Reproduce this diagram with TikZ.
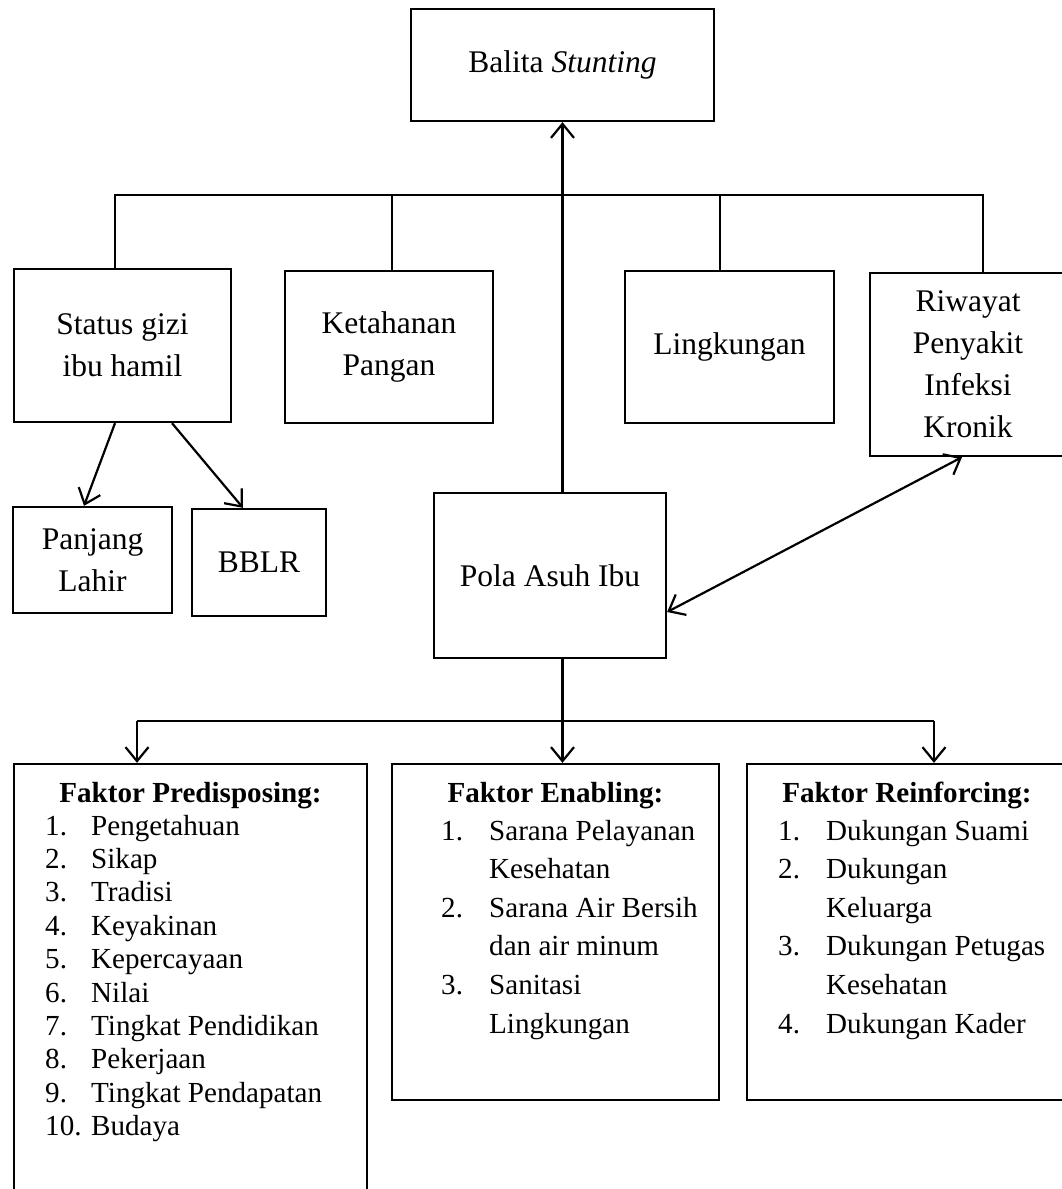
\documentclass[tikz,border=0pt]{standalone}
\usepackage{fontspec}
\setmainfont{Liberation Serif}
\usetikzlibrary{arrows.meta}
\newcommand\mytopfont{\fontsize{31.5}{42}\selectfont}
\newcommand\mybotfont{\fontsize{29.1}{33.4}\selectfont}
\begin{document}
\begin{tikzpicture}[x=1pt,y=-1pt,
  box/.style={draw, line width=2.3pt, inner sep=0pt, align=center, font=\mytopfont},
  bbox/.style={draw, line width=2.3pt, inner sep=0pt},
  ln/.style={line width=2.2pt},
  arr/.style={line width=2.2pt, -{Straight Barb[length=14pt,width=23pt]}},
  arrtwo/.style={line width=2.2pt, {Straight Barb[length=14pt,width=23pt]}-{Straight Barb[length=14pt,width=23pt]}},
  item/.style={anchor=base west, inner sep=0pt, font=\mybotfont},
  head/.style={anchor=base, inner sep=0pt, font=\mybotfont\bfseries}]
\useasboundingbox (0,0) rectangle (1062,1189);
\fill[white] (0,0) rectangle (1062,1189);

% top boxes
\node[box, minimum width=303pt, minimum height=112pt] (bal) at (562.5,65) {Balita \textit{Stunting}};
\node[box, minimum width=217pt, minimum height=153pt] (status) at (122.5,345.5) {Status gizi\\ibu hamil};
\node[box, minimum width=208pt, minimum height=152pt] (ket) at (389,347) {Ketahanan\\Pangan};
\node[box, minimum width=209pt, minimum height=152pt] (ling) at (729.5,347) {Lingkungan};
\node[box, minimum width=196pt, minimum height=183pt] (riw) at (968,364.5) {Riwayat\\Penyakit\\Infeksi\\Kronik};
\node[box, minimum width=159pt, minimum height=106pt] (panj) at (92.5,560) {Panjang\\Lahir};
\node[box, minimum width=134pt, minimum height=107pt] (bblr) at (259,562.5) {BBLR};
\node[box, minimum width=232pt, minimum height=165pt] (pola) at (550,575.5) {Pola Asuh Ibu};

% bottom boxes
\node[bbox, minimum width=353pt, minimum height=436pt] (pred) at (190.5,982) {};
\node[bbox, minimum width=327pt, minimum height=336pt] (enab) at (555.5,932) {};
\node[bbox, minimum width=319pt, minimum height=336pt] (rein) at (906.5,932) {};

% top tree
\coordinate (tl) at (115,195);
\coordinate (tk) at (392,195);
\coordinate (tg) at (720,195);
\coordinate (tr) at (983,195);
\draw[ln] (status.north -| tl) -- (tl) -- (tr) -- (riw.north -| tr);
\draw[ln] (tk) -- (ket.north -| tk);
\draw[ln] (tg) -- (ling.north -| tg);

% arrows
\draw[arr] (pola.north -| bal.south) -- (bal.south);
\draw[arr] ([xshift=-7.5pt]status.south) -- ([xshift=-8.5pt]panj.north);
\draw[arr] ([xshift=49.5pt]status.south) -- ([xshift=-16pt]bblr.north);
\draw[arrtwo] ([yshift=-36.5pt]pola.east) -- ([xshift=-6pt]riw.south);

% bottom tree
\coordinate (bl) at (137,721);
\coordinate (br) at (934,721);
\draw[arr] (pola.south -| bal.south) -- (enab.north -| bal.south);
\draw[ln] (bl) -- (br);
\draw[arr] (bl) -- (pred.north -| bl);
\draw[arr] (br) -- (rein.north -| br);

% Predisposing
\node[head] (predh) at (190.5,802) {Faktor Predisposing:};
\foreach \t [count=\i] in {Pengetahuan, Sikap, Tradisi, Keyakinan, Kepercayaan, Nilai, Tingkat Pendidikan, Pekerjaan, Tingkat Pendapatan, Budaya} {
  \node[item] (pn\i) at (45,{835+33.4*(\i-1)}) {\i.};
  \node[item] (pt\i) at (91,{835+33.4*(\i-1)}) {\t};
}

% Enabling
\node[head] (enh) at (555.5,802) {Faktor Enabling:};
\node[item] (en1) at (441,840) {1.};
\node[item] (en2) at (441,917.2) {2.};
\node[item] (en3) at (441,994.4) {3.};
\node[item] (et1) at (489,840) {Sarana Pelayanan};
\node[item] (et2) at (489,878.6) {Kesehatan};
\node[item] (et3) at (489,917.2) {Sarana Air Bersih};
\node[item] (et4) at (489,955.8) {dan air minum};
\node[item] (et5) at (489,994.4) {Sanitasi};
\node[item] (et6) at (489,1033) {Lingkungan};

% Reinforcing
\node[head] (reh) at (907,802) {Faktor Reinforcing:};
\node[item] (rn1) at (778,840) {1.};
\node[item] (rn2) at (778,878.6) {2.};
\node[item] (rn3) at (778,955.8) {3.};
\node[item] (rn4) at (778,1033) {4.};
\node[item] (rt1) at (826,840) {Dukungan Suami};
\node[item] (rt2) at (826,878.6) {Dukungan};
\node[item] (rt3) at (826,917.2) {Keluarga};
\node[item] (rt4) at (826,955.8) {Dukungan Petugas};
\node[item] (rt5) at (826,994.4) {Kesehatan};
\node[item] (rt6) at (826,1033) {Dukungan Kader};
\end{tikzpicture}
\end{document}
